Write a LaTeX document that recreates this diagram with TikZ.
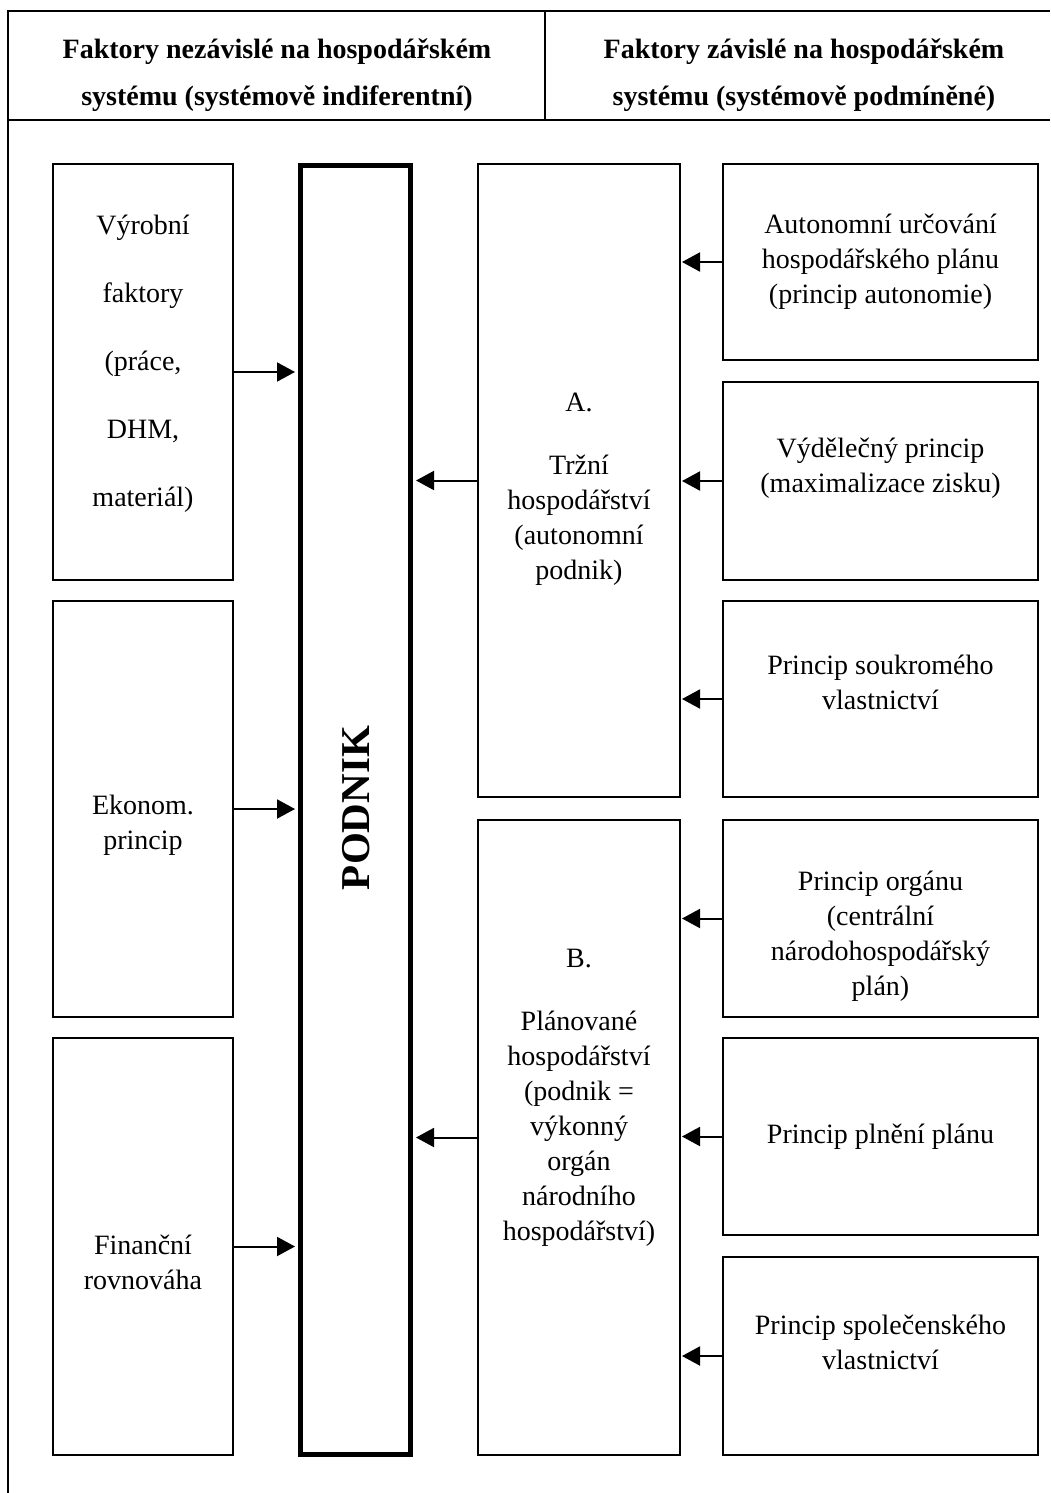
\documentclass[tikz,border=0pt]{standalone}
\usepackage{fontspec}
\setmainfont{Liberation Serif}
\usetikzlibrary{arrows.meta}
\begin{document}
\begin{tikzpicture}[x=1pt,y=-1pt,
  box/.style={draw, line width=2pt, inner sep=0pt},
  pbox/.style={draw, line width=5.5pt, inner sep=0pt},
  txt/.style={align=center, inner sep=0pt, font=\fontsize{28}{35}\selectfont},
  head/.style={align=center, inner sep=0pt, font=\bfseries\fontsize{28}{47}\selectfont},
  arr/.style={line width=2pt, -{Triangle[length=18pt,width=19pt]}},
  frame/.style={line width=2pt}]
\useasboundingbox (0,0) rectangle (1050,1493);
% frame
\coordinate (fbl) at (8,1493);
\coordinate (ftl) at (8,11);
\coordinate (ftr) at (1050,11);
\coordinate (fhl) at (8,120);
\coordinate (fhr) at (1050,120);
\coordinate (fdt) at (545,11);
\coordinate (fdb) at (545,120);
\draw[frame] (fbl) -- (ftl) -- (ftr);
\draw[frame] (fhl) -- (fhr);
\draw[frame] (fdt) -- (fdb);
% headers
\node[head] (h1) at (277,75) {Faktory nezávislé na hospodářském\\systému (systémově indiferentní)};
\node[head] (h2) at (804,75) {Faktory závislé na hospodářském\\systému (systémově podmíněné)};
% left column
\node[box, minimum width=180, minimum height=416] (l1) at (143,372) {};
\node[box, minimum width=180, minimum height=416] (l2) at (143,809) {};
\node[box, minimum width=180, minimum height=417] (l3) at (143,1246.5) {};
\node[txt, font=\fontsize{28}{68}\selectfont] (l1t) at (143,364) {Výrobní\\faktory\\(práce,\\DHM,\\materiál)};
\node[txt] (l2t) at (143,825) {Ekonom.\\princip};
\node[txt] (l3t) at (143,1262) {Finanční\\rovnováha};
% podnik
\node[pbox, minimum width=110, minimum height=1289] (p) at (355.5,810) {};
\node[rotate=90, inner sep=0pt, font=\bfseries\fontsize{41}{41}\selectfont] (pt) at (356,808) {PODNIK};
% middle column
\node[box, minimum width=202, minimum height=633] (a) at (579,480.5) {};
\node[box, minimum width=202, minimum height=635] (b) at (579,1137.5) {};
\node[txt] (at) at (579,489) {A.\\[28pt]Tržní\\hospodářství\\(autonomní\\podnik)};
\node[txt] (bt) at (579,1098) {B.\\[28pt]Plánované\\hospodářství\\(podnik =\\výkonný\\orgán\\národního\\hospodářství)};
% right column
\node[box, minimum width=315, minimum height=196] (r1) at (880.5,262) {};
\node[box, minimum width=315, minimum height=198] (r2) at (880.5,481) {};
\node[box, minimum width=315, minimum height=196] (r3) at (880.5,699) {};
\node[box, minimum width=315, minimum height=197] (r4) at (880.5,918.5) {};
\node[box, minimum width=315, minimum height=197] (r5) at (880.5,1136.5) {};
\node[box, minimum width=315, minimum height=198] (r6) at (880.5,1356) {};
\node[txt] (r1t) at (880.5,262) {Autonomní určování\\hospodářského plánu\\(princip autonomie)};
\node[txt] (r2t) at (880.5,468) {Výdělečný princip\\(maximalizace zisku)};
\node[txt] (r3t) at (880.5,682) {Princip soukromého\\vlastnictví};
\node[txt] (r4t) at (880.5,936) {Princip orgánu\\(centrální\\národohospodářský\\plán)};
\node[txt] (r5t) at (880.5,1137) {Princip plnění plánu};
\node[txt] (r6t) at (880.5,1342) {Princip společenského\\vlastnictví};
% arrows into PODNIK
\draw[arr, shorten >=2.75pt] (l1.east) -- (l1.east -| p.west);
\draw[arr, shorten >=2.75pt] (l2.east) -- (l2.east -| p.west);
\draw[arr, shorten >=2.75pt] (l3.east) -- (l3.east -| p.west);
\draw[arr, shorten >=2.75pt] (a.west) -- (a.west -| p.east);
\draw[arr, shorten >=2.75pt] (b.west) -- (b.west -| p.east);
% arrows into A and B
\draw[arr, shorten >=1pt] (r1.west) -- (r1.west -| a.east);
\draw[arr, shorten >=1pt] (r2.west) -- (r2.west -| a.east);
\draw[arr, shorten >=1pt] (r3.west) -- (r3.west -| a.east);
\draw[arr, shorten >=1pt] (r4.west) -- (r4.west -| b.east);
\draw[arr, shorten >=1pt] (r5.west) -- (r5.west -| b.east);
\draw[arr, shorten >=1pt] (r6.west) -- (r6.west -| b.east);
\end{tikzpicture}
\end{document}
